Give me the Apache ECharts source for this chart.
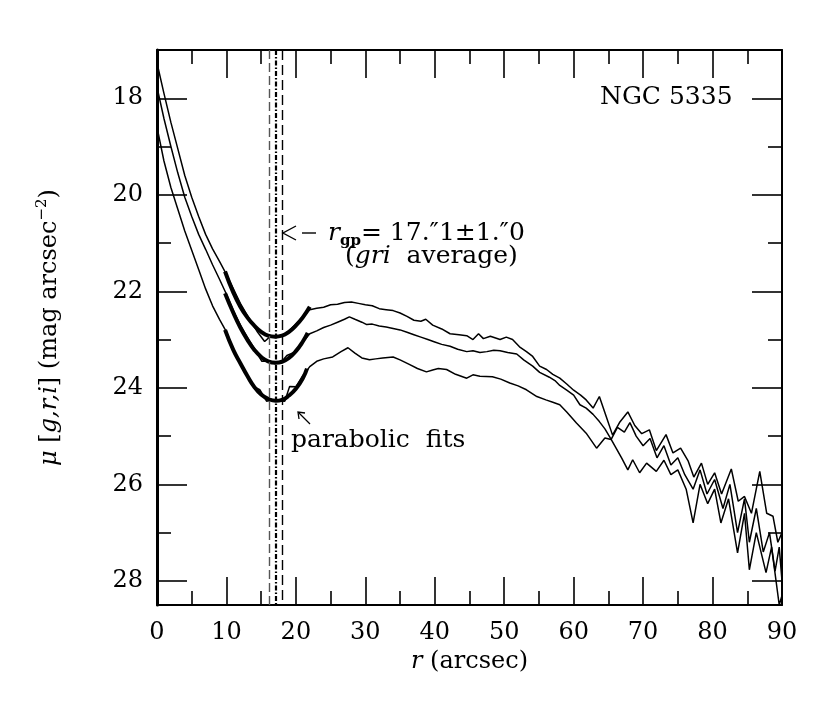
<!DOCTYPE html>
<html>
<head>
<meta charset="utf-8">
<script src="https://cdn.jsdelivr.net/npm/echarts@6/dist/echarts.min.js"></script>
<style>html,body{margin:0;padding:0;background:#fff;}#c{width:830px;height:703px;}</style>
</head>
<body>
<div id="c"></div>
<script>
// ---- data ----
const rI = [0,1,2,3,4,5,6,7,8,9,10,11,12,13,13.5,14.5,15.5,16.2,17,18,19,20,21,22,23,24,25,26,27,28,29,30,31,32,33,34,35,36,37,38,38.7,39.7,41,42.2,43.5,44.6,45.5,46.3,47,48,49.4,50.3,51.2,52.2,53.2,54.1,55.1,56.1,57,58,59,60,61,61.8,62.8,63.7,64.7,65.6,66.6,67.8,68.8,69.8,70.9,71.9,73.3,74.3,75.4,76.5,77.3,78.4,79.3,80.3,81.3,82.7,83.7,84.6,85.6,86.8,87.8,88.7,89.4,90];
const muI = [17.27,17.9,18.5,19.05,19.6,20.05,20.45,20.82,21.12,21.38,21.65,21.95,22.25,22.5,22.62,22.85,23.04,22.95,22.92,22.93,22.82,22.68,22.52,22.38,22.35,22.33,22.28,22.27,22.23,22.22,22.25,22.28,22.3,22.36,22.38,22.4,22.45,22.52,22.6,22.62,22.58,22.7,22.78,22.88,22.9,22.92,23.0,22.88,22.98,22.93,23.0,22.95,23.0,23.15,23.25,23.35,23.55,23.62,23.72,23.8,23.92,24.05,24.15,24.25,24.42,24.18,24.6,24.98,24.72,24.5,24.78,24.95,24.87,25.3,24.97,25.35,25.25,25.52,25.85,25.56,26.0,25.76,26.2,25.68,26.35,26.25,26.6,25.73,26.6,26.66,27.2,27.0];

const rR = [0,1,2,3,4,5,6,7,8,9,10,11,12,13,14,15.1,16,17,18,18.7,20,21,22,23,24,25,26,27,27.7,28.5,29.5,30.2,31,32,33,34,35,36,37,38,39,40,41,42.2,43.3,44.6,45.5,46.5,47.5,48.5,49.4,50.5,51.8,52.8,54.1,55.1,56.5,57.3,58,59,60,60.9,61.8,62.8,63.7,64.5,65.4,66.3,67.3,68.1,69,70,71,72,73,74,75,76,77.2,78.2,79.2,80.3,81.5,82.5,83.6,84.6,85.3,86.3,87.3,88.2,89,89.6,90];
const muR = [17.77,18.42,19.0,19.55,20.05,20.45,20.82,21.13,21.45,21.75,22.06,22.4,22.7,22.95,23.18,23.45,23.45,23.5,23.45,23.33,23.25,23.05,22.88,22.82,22.75,22.7,22.64,22.58,22.53,22.58,22.64,22.69,22.68,22.72,22.74,22.77,22.8,22.85,22.9,22.95,23.0,23.05,23.1,23.14,23.2,23.25,23.23,23.27,23.25,23.22,23.23,23.27,23.3,23.42,23.55,23.68,23.78,23.85,23.95,24.05,24.15,24.35,24.42,24.55,24.7,24.85,25.07,24.82,24.92,24.72,25.0,25.2,25.05,25.45,25.2,25.6,25.45,25.8,26.1,25.7,26.2,25.9,26.5,26.0,27.0,26.3,27.2,26.5,27.4,27.0,27.8,27.3,28.0];

const rG = [0,1,2,3,4,5,6,7,8,9,10,11,12,13,14,14.8,15.8,16.5,17.5,18.4,19.1,20,21,22,23,24,25.3,26.5,27.5,28.5,29.5,30.6,31.5,32.5,34,35,36.4,37.5,38.8,39.7,40.5,41.7,43,44.6,45.5,46.5,48.3,49.5,50.8,52,53.2,54.7,56,57,58,59,60.4,61.8,63.3,64.5,65.4,66.9,67.8,68.5,69.5,70.5,71.9,73,74,75,76.2,77.2,78.2,79.3,80.3,81.2,82.3,83.6,84.6,85.3,86.3,87.7,88.5,89.6,90];
const muG = [18.6,19.3,19.85,20.3,20.75,21.15,21.55,21.95,22.3,22.58,22.84,23.2,23.5,23.75,23.98,24.04,24.28,24.25,24.27,24.28,23.97,23.98,23.75,23.56,23.45,23.4,23.36,23.25,23.17,23.28,23.38,23.42,23.4,23.38,23.36,23.42,23.52,23.6,23.67,23.63,23.6,23.62,23.72,23.8,23.73,23.76,23.77,23.82,23.9,23.96,24.04,24.18,24.25,24.3,24.35,24.5,24.73,24.94,25.25,25.04,25.07,25.45,25.7,25.49,25.76,25.56,25.73,25.5,25.8,25.7,26.1,26.8,26.0,26.4,26.1,26.8,26.3,27.42,26.6,27.77,27.0,27.83,27.3,28.5,28.3];

// parabolic fits
const rFitI = [9.8,11,12,13,14,15,16,17,18,19,20,21,22];
const muFitI = [21.59,22.03,22.32,22.54,22.71,22.84,22.92,22.94,22.92,22.84,22.71,22.54,22.32];
const rFitR = [9.8,11,12,13,14,15,16,17.1,18,19,20,21,21.7];
const muFitR = [22.04,22.45,22.75,23.0,23.21,23.36,23.45,23.48,23.46,23.38,23.24,23.04,22.86];
const rFitG = [9.8,11,12,13,14,15,16,17.1,18,19,20,21,21.6];
const muFitG = [22.8,23.22,23.49,23.75,23.98,24.14,24.23,24.27,24.25,24.16,24.02,23.8,23.6];

// r_gp = 17.1 +/- 1.0
const rgpLines = [16.1, 17.1, 18.1];

// tick values
const xTicks = {min: 0, max: 90, step: 10};
const yMajor = [18, 20, 22, 24, 26, 28];
const yMinor = [17, 19, 21, 23, 25, 27];
const yRange = {min: 17, max: 28.5};

// ---- chart ----
const FONT = 'DejaVu Serif';
const zip = (a, b) => a.map((v, k) => [v, b[k]]);
const chart = echarts.init(document.getElementById('c'), null, {renderer: 'canvas'});

const xCommon = {
  type: 'value', min: xTicks.min, max: xTicks.max, interval: xTicks.step,
  axisLine: {show: true, lineStyle: {color: '#000', width: 2}},
  axisTick: {show: true, inside: true, length: 28, lineStyle: {color: '#000', width: 1.6}},
  minorTick: {show: true, splitNumber: 2, length: 14, lineStyle: {color: '#000', width: 1.6}},
  splitLine: {show: false}, minorSplitLine: {show: false}
};
const yCommon = {
  type: 'value', inverse: true, min: yRange.min, max: yRange.max,
  splitLine: {show: false}
};

chart.setOption({
  animation: false,
  backgroundColor: '#fff',
  grid: {left: 157, right: 48, top: 50, bottom: 98, containLabel: false},
  xAxis: [
    Object.assign({}, xCommon, {
      position: 'bottom',
      axisLabel: {show: true, margin: 16, fontFamily: FONT, fontSize: 24, color: '#000'},
      name: '{it|r} (arcsec)', nameLocation: 'middle', nameGap: 45,
      nameTextStyle: {fontFamily: FONT, fontSize: 24, color: '#000',
        rich: {it: {fontFamily: FONT, fontSize: 24, fontStyle: 'italic', color: '#000'}}}
    }),
    Object.assign({}, xCommon, {position: 'top', axisLabel: {show: false}})
  ],
  yAxis: [
    Object.assign({}, yCommon, {
      position: 'left',
      axisLine: {show: true, lineStyle: {color: '#000', width: 3}},
      axisTick: {show: true, inside: true, length: 30, customValues: yMajor, lineStyle: {color: '#000', width: 1.6}},
      axisLabel: {show: true, customValues: yMajor, margin: 14, fontFamily: FONT, fontSize: 24, color: '#000'},
      name: '{it|μ} [{it|g,r,i}] (mag arcsec{sup|−2})', nameLocation: 'middle', nameRotate: 90, nameGap: 92,
      nameTextStyle: {fontFamily: FONT, fontSize: 24, color: '#000', lineHeight: 30,
        rich: {
          it: {fontFamily: FONT, fontSize: 24, fontStyle: 'italic', color: '#000', lineHeight: 30},
          sup: {fontFamily: FONT, fontSize: 15, color: '#000', verticalAlign: 'top', lineHeight: 30}
        }}
    }),
    Object.assign({}, yCommon, {
      position: 'left',
      axisLine: {show: false},
      axisTick: {show: true, inside: true, length: 14, customValues: yMinor, lineStyle: {color: '#000', width: 1.6}},
      axisLabel: {show: false}
    }),
    Object.assign({}, yCommon, {
      position: 'right',
      axisLine: {show: true, lineStyle: {color: '#000', width: 2}},
      axisTick: {show: true, inside: true, length: 30, customValues: yMajor, lineStyle: {color: '#000', width: 1.6}},
      axisLabel: {show: false}
    }),
    Object.assign({}, yCommon, {
      position: 'right',
      axisLine: {show: false},
      axisTick: {show: true, inside: true, length: 14, customValues: yMinor, lineStyle: {color: '#000', width: 1.6}},
      axisLabel: {show: false}
    })
  ],
  series: [
    {type: 'line', data: zip(rI, muI), showSymbol: false, lineStyle: {color: '#000', width: 1.5}, silent: true},
    {type: 'line', data: zip(rR, muR), showSymbol: false, lineStyle: {color: '#000', width: 1.5}, silent: true},
    {type: 'line', data: zip(rG, muG), showSymbol: false, lineStyle: {color: '#000', width: 1.5}, silent: true},
    {type: 'line', data: zip(rFitI, muFitI), showSymbol: false, smooth: true, lineStyle: {color: '#000', width: 4}, silent: true},
    {type: 'line', data: zip(rFitR, muFitR), showSymbol: false, smooth: true, lineStyle: {color: '#000', width: 4}, silent: true},
    {type: 'line', data: zip(rFitG, muFitG), showSymbol: false, smooth: true, lineStyle: {color: '#000', width: 4}, silent: true,
      markLine: {
        silent: true, symbol: ['none', 'none'], label: {show: false},
        data: [
          {xAxis: rgpLines[0], lineStyle: {color: '#555', width: 1.4, type: [9, 4]}},
          {xAxis: rgpLines[1], lineStyle: {color: '#000', width: 2.2, type: [5, 2, 1.5, 2]}},
          {xAxis: rgpLines[2], lineStyle: {color: '#000', width: 1.4, type: [10, 5]}}
        ]
      }}
  ],
  graphic: [
    {type: 'text', left: 600, top: 85, style: {text: 'NGC 5335', font: '25px "DejaVu Serif"', fill: '#000'}},
    // r_gp annotation
    {type: 'polyline', shape: {points: [[296, 226], [283, 233], [296, 240]]}, style: {stroke: '#000', lineWidth: 1.4, fill: null}},
    {type: 'line', shape: {x1: 302, y1: 233, x2: 316, y2: 233}, style: {stroke: '#000', lineWidth: 1.4}},
    {type: 'text', left: 328, top: 221, style: {
      text: '{it|r}{sub|gp}{n|= 17.″1±1.″0}',
      rich: {
        it: {font: 'italic 25px "DejaVu Serif"', fill: '#000', lineHeight: 30},
        sub: {font: 'bold 15px "DejaVu Serif"', fill: '#000', verticalAlign: 'bottom', lineHeight: 30},
        n: {font: '25px "DejaVu Serif"', fill: '#000', lineHeight: 30}
      }}},
    {type: 'text', left: 345, top: 244, style: {
      text: '({it|gri}  average)',
      font: '25px "DejaVu Serif"', fill: '#000',
      rich: {it: {font: 'italic 25px "DejaVu Serif"', fill: '#000'}}}},
    // parabolic fits annotation
    {type: 'line', shape: {x1: 310, y1: 424, x2: 299, y2: 413}, style: {stroke: '#000', lineWidth: 1.3}},
    {type: 'polyline', shape: {points: [[299, 419], [298, 412], [305, 413]]}, style: {stroke: '#000', lineWidth: 1.3, fill: null}},
    {type: 'text', left: 291, top: 428, style: {text: 'parabolic  fits', font: '25px "DejaVu Serif"', fill: '#000'}}
  ]
});
</script>
</body>
</html>
